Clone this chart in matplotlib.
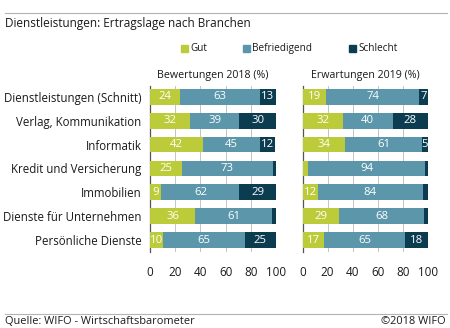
import matplotlib
matplotlib.use("Agg")
import matplotlib.pyplot as plt
from matplotlib.patches import Rectangle
from matplotlib.lines import Line2D

plt.rcParams['font.family'] = ['Open Sans', 'DejaVu Sans']

categories = [
    "Dienstleistungen (Schnitt)",
    "Verlag, Kommunikation",
    "Informatik",
    "Kredit und Versicherung",
    "Immobilien",
    "Dienste für Unternehmen",
    "Persönliche Dienste",
]
series_names = ["Gut", "Befriedigend", "Schlecht"]
colors = ["#bccb3a", "#5b96aa", "#0b3c50"]

gut_2018 = [24, 32, 42, 25, 9, 36, 10]
befr_2018 = [63, 39, 45, 73, 62, 61, 65]
schl_2018 = [13, 30, 12, 2, 29, 3, 25]

gut_2019 = [19, 32, 34, 4, 12, 29, 17]
befr_2019 = [74, 40, 61, 94, 84, 68, 65]
schl_2019 = [7, 28, 5, 2, 4, 3, 18]

panel_titles = ["Bewertungen 2018 (%)", "Erwartungen 2019 (%)"]
x_ticks = [0, 20, 40, 60, 80, 100]

W, H = 450, 328
fig = plt.figure(figsize=(W / 100, H / 100), dpi=100)


def fx(px):
    return px / W


def fy(py):
    return 1 - py / H


# header / footer rules
fig.add_artist(Line2D([fx(5), fx(447)], [fy(13), fy(13)], color="#b4b4b4", lw=0.8))
fig.add_artist(Line2D([fx(5), fx(447)], [fy(314), fy(314)], color="#b4b4b4", lw=0.8))
fig.text(fx(5), fy(24), "Dienstleistungen: Ertragslage nach Branchen",
         fontsize=8.5, ha="left", va="center", color="#1a1a1a")
fig.text(fx(5), fy(321), "Quelle: WIFO - Wirtschaftsbarometer",
         fontsize=7.9, ha="left", va="center", color="#1a1a1a")
fig.text(fx(446), fy(321), "©2018 WIFO",
         fontsize=7.9, ha="right", va="center", color="#1a1a1a")

# legend
legend_x = [181, 243, 349]
for name, col, lx in zip(series_names, colors, legend_x):
    fig.add_artist(Rectangle((fx(lx), fy(52)), fx(7), 7 / H, color=col,
                             transform=fig.transFigure))
    fig.text(fx(lx + 9), fy(48.5), name, fontsize=7.2, ha="left", va="center",
             color="#1a1a1a")

panels = [
    (150, 276, (gut_2018, befr_2018, schl_2018)),
    (302.5, 428, (gut_2019, befr_2019, schl_2019)),
]
top_px, bot_px = 86, 252

for i, (x0, x1, data) in enumerate(panels):
    ax = fig.add_axes([fx(x0), fy(bot_px), (x1 - x0) / W, (bot_px - top_px) / H])
    ypos = list(range(len(categories)))
    left = [0] * len(categories)
    for vals, col in zip(data, colors):
        bars = ax.barh(ypos, vals, left=left, height=0.66, color=col, zorder=3)
        for b, v, l in zip(bars, vals, left):
            if v >= 5:
                ax.text(l + v / 2, b.get_y() + b.get_height() / 2, str(v),
                        ha="center", va="center", color="white", fontsize=8.2,
                        zorder=4)
        left = [a + b for a, b in zip(left, vals)]
    ax.set_xlim(0, 100)
    ax.set_ylim(6.5, -0.45)
    ax.set_xticks(x_ticks)
    ax.grid(axis="x", color="#c4c4c4", lw=0.7, zorder=0)
    ax.tick_params(axis="x", length=0, labelsize=8.4, pad=10, colors="#1a1a1a")
    ax.tick_params(axis="y", length=0)
    for s in ["top", "right", "bottom"]:
        ax.spines[s].set_visible(False)
    ax.spines["left"].set_color("#555555")
    ax.spines["left"].set_linewidth(0.9)
    ax.set_yticks(ypos)
    if i == 0:
        ax.set_yticklabels(categories, fontsize=8.3, color="#1a1a1a")
        ax.tick_params(axis="y", pad=6)
    else:
        ax.set_yticklabels([])
    ax.set_title(panel_titles[i], fontsize=7.7, pad=6, color="#1a1a1a")
    ax.set_facecolor("none")

fig.savefig("out.png", dpi=100)
